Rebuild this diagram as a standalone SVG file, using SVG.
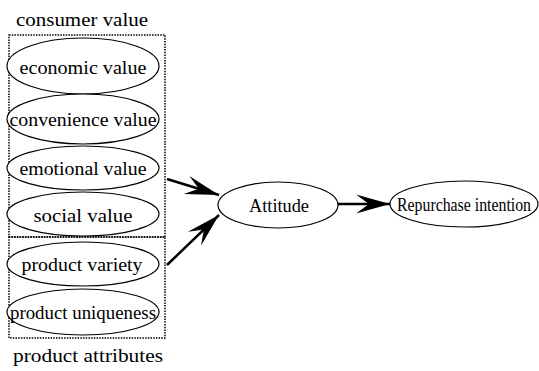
<svg xmlns="http://www.w3.org/2000/svg" width="539" height="371" viewBox="0 0 539 371">
<defs>
<style>
.box{fill:none;stroke:#000;stroke-width:1.5;stroke-dasharray:1.5 1.2}
.el{fill:#fff;stroke:#000;stroke-width:1.2}
text{font-family:'Liberation Serif','Times New Roman','DejaVu Serif',serif;font-size:19px;fill:#000}
.t{text-anchor:middle}
.c{fill:none;stroke:#000;stroke-width:2.5}
</style>
<marker id="ah" markerUnits="userSpaceOnUse" markerWidth="40" markerHeight="24" refX="35" refY="12" orient="auto" viewBox="0 0 40 24">
<path d="M35,12 L1,2.5 L14,12 L1,21.5 Z" fill="#000"/>
</marker>
</defs>
<rect width="539" height="371" fill="#fff"/>
<g id="group-consumer-value">
<rect class="box" x="9" y="35" width="156" height="202"/>
<text x="16" y="26" textLength="132" lengthAdjust="spacingAndGlyphs">consumer value</text>
</g>
<g id="group-product-attributes">
<rect class="box" x="9" y="237" width="156" height="101"/>
<text x="13" y="362" textLength="150" lengthAdjust="spacingAndGlyphs">product attributes</text>
</g>
<g id="economic-value">
<ellipse class="el" cx="83" cy="66" rx="76" ry="28"/>
<text class="t" x="83" y="74" textLength="127" lengthAdjust="spacingAndGlyphs">economic value</text>
</g>
<g id="convenience-value">
<ellipse class="el" cx="83" cy="119" rx="76" ry="25"/>
<text class="t" x="83" y="126" textLength="147" lengthAdjust="spacingAndGlyphs">convenience value</text>
</g>
<g id="emotional-value">
<ellipse class="el" cx="83" cy="168" rx="76" ry="22"/>
<text class="t" x="83" y="175" textLength="127" lengthAdjust="spacingAndGlyphs">emotional value</text>
</g>
<g id="social-value">
<ellipse class="el" cx="83" cy="214" rx="76" ry="22"/>
<text class="t" x="83" y="222" textLength="99" lengthAdjust="spacingAndGlyphs">social value</text>
</g>
<g id="product-variety">
<ellipse class="el" cx="83" cy="264" rx="76" ry="22"/>
<text class="t" x="82" y="271" textLength="121" lengthAdjust="spacingAndGlyphs">product variety</text>
</g>
<g id="product-uniqueness">
<ellipse class="el" cx="83" cy="312" rx="76" ry="23"/>
<text class="t" x="83" y="319" textLength="146" lengthAdjust="spacingAndGlyphs">product uniqueness</text>
</g>
<g id="attitude">
<ellipse class="el" cx="278" cy="205" rx="60" ry="23"/>
<text class="t" x="279" y="212" textLength="60" lengthAdjust="spacingAndGlyphs">Attitude</text>
</g>
<g id="repurchase-intention">
<ellipse class="el" cx="464" cy="204" rx="74" ry="23"/>
<text class="t" x="464" y="211" textLength="134" lengthAdjust="spacingAndGlyphs">Repurchase intention</text>
</g>
<g id="connectors">
<line class="c" x1="167" y1="179" x2="219" y2="195" marker-end="url(#ah)"/>
<line class="c" x1="167" y1="265" x2="219" y2="215" marker-end="url(#ah)"/>
<line class="c" x1="338" y1="204" x2="390" y2="204" marker-end="url(#ah)"/>
</g>
</svg>
